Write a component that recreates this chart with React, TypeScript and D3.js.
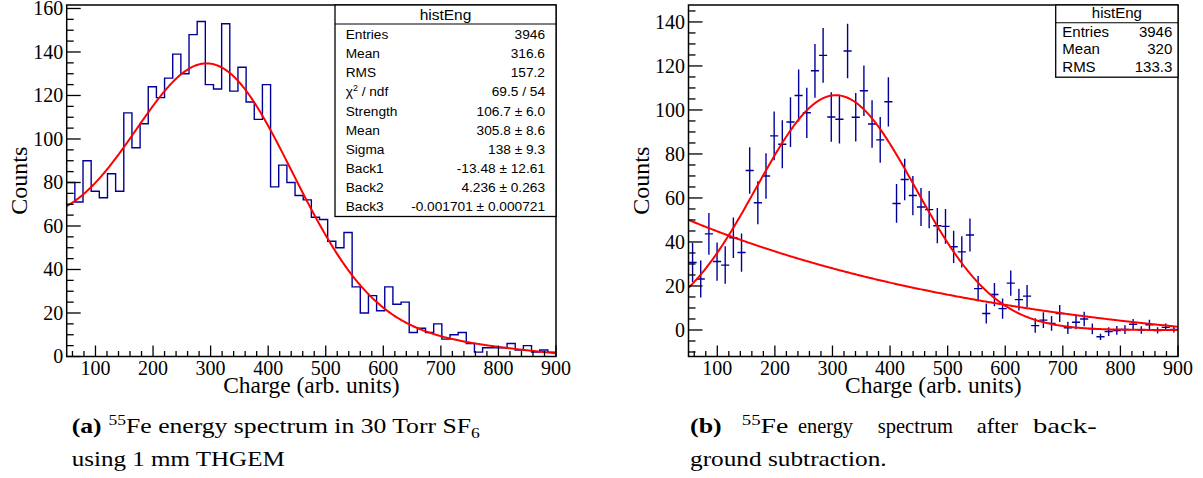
import React from 'react';
import * as d3 from 'd3';

// ---------- data ----------
const binLow = 50;
const binHigh = 900;
const nBins = 60;

// left: raw histogram counts per bin
const rawCounts = [80, 71, 90, 76, 73, 84, 76, 112, 96, 107, 124, 119, 128, 139, 130, 148, 154, 125, 123, 153, 122, 133, 117, 109, 125, 78, 88, 80, 74, 72, 64, 63, 53, 50, 57, 32, 20, 28, 21, 32, 24, 25, 11, 13, 11, 15, 8, 10, 11, 6, 2, 4, 4, 4, 6, 3, 5, 2, 3, 2];

// right: background-subtracted values and their errors
const subtracted = [30.7, 23.2, 43.7, 31.1, 29.5, 41.9, 35.2, 72.5, 57.8, 70.0, 88.2, 84.4, 94.5, 106.6, 98.7, 117.8, 124.8, 96.8, 95.8, 126.8, 96.7, 108.7, 93.6, 86.4, 103.7, 57.5, 68.4, 61.1, 55.9, 54.7, 47.4, 47.1, 37.8, 35.5, 43.2, 18.8, 7.5, 16.1, 9.7, 21.3, 13.8, 15.4, 2.0, 4.5, 3.0, 7.5, 1.0, 3.5, 5.0, 0.5, -3.1, -0.7, -0.2, 0.2, 2.6, 0.0, 2.4, -0.2, 1.2, 0.3];
const subtractedErr = [8.9, 8.4, 9.5, 8.7, 8.5, 9.2, 8.7, 10.6, 9.8, 10.3, 11.1, 10.9, 11.3, 11.8, 11.4, 12.2, 12.4, 11.2, 11.1, 12.4, 11.0, 11.5, 10.8, 10.4, 11.2, 8.8, 9.4, 8.9, 8.6, 8.5, 8.0, 7.9, 7.3, 7.1, 7.5, 5.7, 4.5, 5.3, 4.6, 5.7, 4.9, 5.0, 3.3, 3.6, 3.3, 3.9, 2.8, 3.2, 3.3, 2.4, 1.4, 2.0, 2.0, 2.0, 2.4, 1.7, 2.2, 1.4, 1.7, 1.4];

// fit parameters (from stats box)
const fitStrength = 106.7;
const fitMean = 305.8;
const fitSigma = 138;
const back1 = -13.48;
const back2 = 4.236;
const back3 = -0.001701;

// ticks
const xMajorTicks = [100, 200, 300, 400, 500, 600, 700, 800, 900];
const leftYMajorTicks = [0, 20, 40, 60, 80, 100, 120, 140, 160];
const rightYMajorTicks = [0, 20, 40, 60, 80, 100, 120, 140];

// stats
const leftStatLabels = ['Entries', 'Mean', 'RMS', 'CHI', 'Strength', 'Mean', 'Sigma', 'Back1', 'Back2', 'Back3'];
const leftStatValues = ['3946', '316.6', '157.2', '69.5 / 54', '106.7 \u00b1 6.0', '305.8 \u00b1 8.6', '138 \u00b1 9.3', '-13.48 \u00b1 12.61', '4.236 \u00b1 0.263', '-0.001701 \u00b1 0.000721'];
const rightStatLabels = ['Entries', 'Mean', 'RMS'];
const rightStatValues = ['3946', '320', '133.3'];

const NAVY = '#000099';
const RED = '#ff0000';
const SERIF = '"Liberation Serif", "Times New Roman", serif';
const SANS = '"Liberation Sans", Arial, sans-serif';

const gauss = (x: number) => fitStrength * Math.exp(-((x - fitMean) ** 2) / (2 * fitSigma * fitSigma));
const backgr = (x: number) => back1 + Math.exp(back2 + back3 * x);

const TOP = 5;
const BOTTOM = 356.5;

function Axes({ xs, ys, yMajor, yMinMinor, yMaxMinor }: any) {
  const [x0, x1] = xs.range();
  const xMinor = d3.range(60, 900.01, 20).filter((v: number) => v % 100 !== 0);
  const yMinor = d3.range(yMinMinor, yMaxMinor + 0.01, 5).filter((v: number) => v % 20 !== 0);
  return (
    <g>
      {xMajorTicks.map((v) => (
        <line key={'xM' + v} x1={xs(v)} x2={xs(v)} y1={BOTTOM} y2={BOTTOM - 11} stroke="#000" strokeWidth={1.3} />
      ))}
      {xMinor.map((v: number) => (
        <line key={'xm' + v} x1={xs(v)} x2={xs(v)} y1={BOTTOM} y2={BOTTOM - 5.5} stroke="#000" strokeWidth={1.3} />
      ))}
      {yMajor.map((v: number) => (
        <line key={'yM' + v} x1={x0} x2={x0 + 14} y1={ys(v)} y2={ys(v)} stroke="#000" strokeWidth={1.3} />
      ))}
      {yMinor.map((v: number) => (
        <line key={'ym' + v} x1={x0} x2={x0 + 7} y1={ys(v)} y2={ys(v)} stroke="#000" strokeWidth={1.3} />
      ))}
      <rect x={x0} y={TOP} width={x1 - x0} height={BOTTOM - TOP} fill="none" stroke="#000" strokeWidth={1.5} />
      {xMajorTicks.map((v) => (
        <text key={'xl' + v} x={xs(v)} y={374.5} textAnchor="middle" fontFamily={SERIF} fontSize={20} fill="#000">
          {v}
        </text>
      ))}
      {yMajor.map((v: number) => (
        <text key={'yl' + v} x={x0 - 3.5} y={ys(v)} dy="0.34em" textAnchor="end" fontFamily={SERIF} fontSize={20} fill="#000">
          {v}
        </text>
      ))}
      <text x={(x0 + x1) / 2} y={392.5} textAnchor="middle" fontFamily={SERIF} fontSize={23.5} fill="#000">
        Charge (arb. units)
      </text>
      <text
        transform={`translate(${x0 - 40},${(TOP + BOTTOM) / 2}) rotate(-90)`}
        textAnchor="middle"
        fontFamily={SERIF}
        fontSize={24}
        fill="#000"
      >
        Counts
      </text>
    </g>
  );
}

function StatsBox({ x0, x1, y0, headerH, rowH, firstBase, labels, values, fontSize, titleBase, titleSize, padL, padR }: any) {
  const h = headerH + rowH * labels.length + 2;
  return (
    <g>
      <rect x={x0} y={y0} width={x1 - x0} height={h} fill="#fff" stroke="#000" strokeWidth={1.3} />
      <line x1={x0} x2={x1} y1={y0 + headerH} y2={y0 + headerH} stroke="#000" strokeWidth={1.1} />
      <text x={(x0 + x1) / 2} y={titleBase} textAnchor="middle" fontFamily={SANS} fontSize={titleSize} fill="#000">
        histEng
      </text>
      {labels.map((l: string, i: number) => (
        <g key={i}>
          <text x={x0 + padL} y={firstBase + i * rowH} fontFamily={SANS} fontSize={fontSize} fill="#000">
            {l === 'CHI' ? (
              <>
                <tspan>{'\u03c7'}</tspan>
                <tspan dy={-5} fontSize={fontSize * 0.65}>2</tspan>
                <tspan dy={5}>{' / ndf'}</tspan>
              </>
            ) : (
              l
            )}
          </text>
          <text x={x1 - padR} y={firstBase + i * rowH} textAnchor="end" fontFamily={SANS} fontSize={fontSize} fill="#000">
            {values[i]}
          </text>
        </g>
      ))}
    </g>
  );
}

export default function App() {
  const W = 1203;
  const H = 478;
  const edges = d3.range(nBins + 1).map((i) => binLow + (i * (binHigh - binLow)) / nBins);
  const centers = d3.range(nBins).map((i) => (edges[i] + edges[i + 1]) / 2);

  const lx = d3.scaleLinear().domain([binLow, binHigh]).range([66.7, 556]);
  const ly = d3.scaleLinear().domain([0, 161.6]).range([BOTTOM, TOP]);
  const rx = d3.scaleLinear().domain([binLow, binHigh]).range([688.5, 1178]);
  const ry = d3.scaleLinear().domain([-12.05, 147.7]).range([BOTTOM, TOP]);

  const histPts: [number, number][] = rawCounts.map((c, i) => [edges[i], c] as [number, number]);
  histPts.push([edges[nBins], rawCounts[nBins - 1]]);
  const histPath = d3
    .line<[number, number]>()
    .x((d) => lx(d[0]))
    .y((d) => ly(d[1]))
    .curve(d3.curveStepAfter)(histPts);

  const fx = d3.range(binLow, binHigh + 0.001, 2);
  const leftFit = d3
    .line<number>()
    .x((x) => lx(x))
    .y((x) => ly(gauss(x) + backgr(x)))(fx);
  const rightGauss = d3
    .line<number>()
    .x((x) => rx(x))
    .y((x) => ry(gauss(x)))(fx);
  const rightBack = d3
    .line<number>()
    .x((x) => rx(x))
    .y((x) => ry(backgr(x)))(fx);

  return (
    <svg width={W} height={H} style={{ position: 'absolute', left: 0, top: 0, display: 'block', background: '#fff' }}>
      <rect x={0} y={0} width={W} height={H} fill="#fff" />
      <defs>
        <clipPath id="clipL">
          <rect x={66.7} y={TOP} width={556 - 66.7} height={BOTTOM - TOP} />
        </clipPath>
        <clipPath id="clipR">
          <rect x={688.5} y={TOP} width={1178 - 688.5} height={BOTTOM - TOP} />
        </clipPath>
      </defs>

      {/* ---------- left panel ---------- */}
      <g clipPath="url(#clipL)">
        <path d={histPath || ''} fill="none" stroke={NAVY} strokeWidth={1.4} />
        <path d={leftFit || ''} fill="none" stroke={RED} strokeWidth={2} />
      </g>
      <Axes xs={lx} ys={ly} yMajor={leftYMajorTicks} yMinMinor={5} yMaxMinor={160} />
      <StatsBox
        x0={335}
        x1={556}
        y0={TOP}
        headerH={19}
        rowH={19.05}
        firstBase={39.3}
        labels={leftStatLabels}
        values={leftStatValues}
        fontSize={13.7}
        titleBase={19.5}
        titleSize={15.5}
        padL={10.7}
        padR={11}
      />

      {/* ---------- right panel ---------- */}
      <g clipPath="url(#clipR)">
        {subtracted.map((v, i) => (
          <g key={i} stroke={NAVY} strokeWidth={1.4}>
            <line x1={rx(centers[i])} x2={rx(centers[i])} y1={ry(v - subtractedErr[i])} y2={ry(v + subtractedErr[i])} />
            <line x1={rx(edges[i])} x2={rx(edges[i + 1])} y1={ry(v)} y2={ry(v)} />
          </g>
        ))}
        <path d={rightBack || ''} fill="none" stroke={RED} strokeWidth={2} />
        <path d={rightGauss || ''} fill="none" stroke={RED} strokeWidth={2} />
      </g>
      <Axes xs={rx} ys={ry} yMajor={rightYMajorTicks} yMinMinor={-10} yMaxMinor={145} />
      <StatsBox
        x0={1055.7}
        x1={1178}
        y0={TOP}
        headerH={17.7}
        rowH={17.5}
        firstBase={36.7}
        labels={rightStatLabels}
        values={rightStatValues}
        fontSize={15}
        titleBase={17.8}
        titleSize={15}
        padL={6.6}
        padR={5.7}
      />

      {/* ---------- captions ---------- */}
      <g fontFamily={SERIF} fontSize={22} fill="#000">
        <text x={71.7} y={433} textLength={408} lengthAdjust="spacingAndGlyphs">
          <tspan fontWeight="bold">(a)</tspan>
          <tspan dx={6} dy={-8} fontSize={15}>55</tspan>
          <tspan dy={8}>Fe energy spectrum in 30 Torr SF</tspan>
          <tspan dy={5} fontSize={15}>6</tspan>
        </text>
        <text x={71.7} y={466} textLength={213} lengthAdjust="spacingAndGlyphs">
          using 1 mm THGEM
        </text>

        <text x={690} y={433} textLength={31.7} lengthAdjust="spacingAndGlyphs" fontWeight="bold">
          (b)
        </text>
        <text x={741.7} y={433} textLength={46.6} lengthAdjust="spacingAndGlyphs">
          <tspan dy={-8} fontSize={15}>55</tspan>
          <tspan dy={8}>Fe</tspan>
        </text>
        <text x={798} y={433} textLength={55} lengthAdjust="spacingAndGlyphs">
          energy
        </text>
        <text x={877.7} y={433} textLength={75.3} lengthAdjust="spacingAndGlyphs">
          spectrum
        </text>
        <text x={976.7} y={433} textLength={41.3} lengthAdjust="spacingAndGlyphs">
          after
        </text>
        <text x={1033} y={433} textLength={63.7} lengthAdjust="spacingAndGlyphs">
          back-
        </text>
        <text x={690} y={466} textLength={196.7} lengthAdjust="spacingAndGlyphs">
          ground subtraction.
        </text>
      </g>
    </svg>
  );
}
